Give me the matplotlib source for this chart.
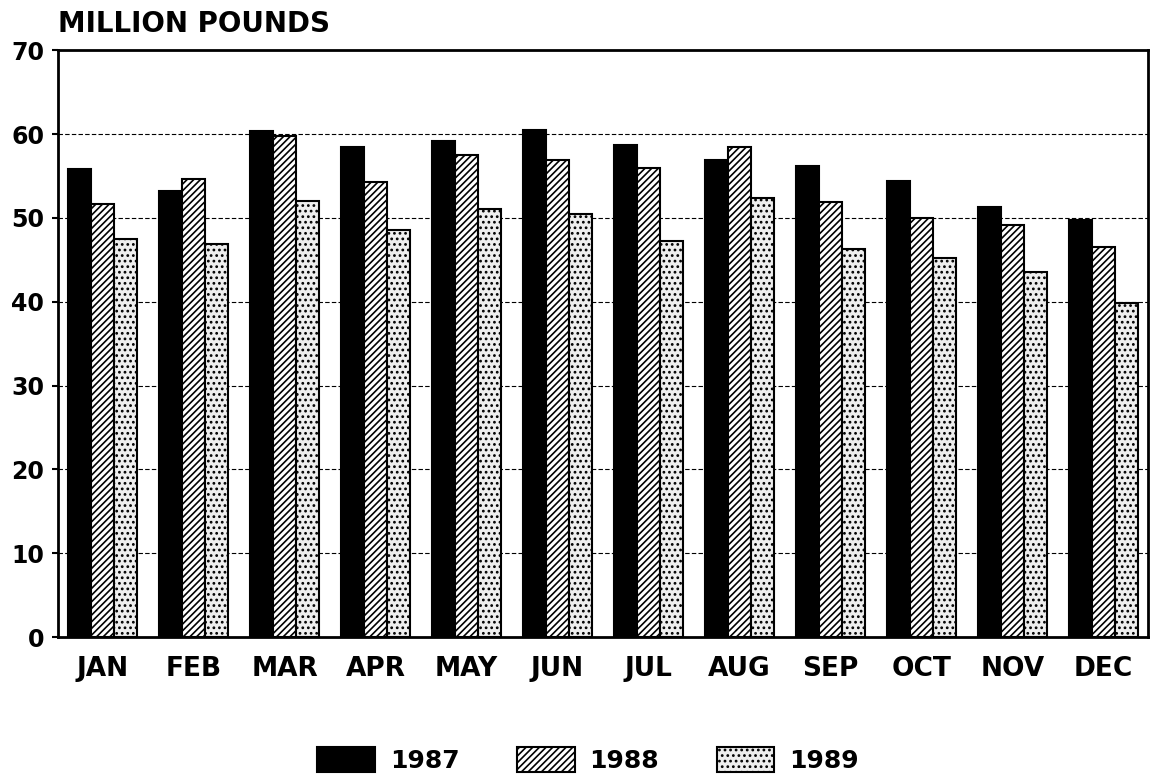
import numpy as np
import matplotlib.pyplot as plt

months = ['JAN', 'FEB', 'MAR', 'APR', 'MAY', 'JUN', 'JUL', 'AUG', 'SEP', 'OCT', 'NOV', 'DEC']
v1987 = [55.8, 53.2, 60.4, 58.5, 59.2, 60.5, 58.7, 56.9, 56.2, 54.4, 51.3, 49.8]
v1988 = [51.7, 54.6, 59.8, 54.3, 57.5, 56.9, 56.0, 58.5, 51.9, 50.0, 49.2, 46.5]
v1989 = [47.5, 46.9, 52.0, 48.6, 51.1, 50.5, 47.3, 52.4, 46.3, 45.2, 43.5, 39.9]
years = ['1987', '1988', '1989']

plt.rcParams['hatch.linewidth'] = 1.2
plt.rcParams['font.family'] = 'DejaVu Sans'
plt.rcParams['font.weight'] = 'bold'

fig = plt.figure(figsize=(11.51, 7.74), dpi=100)
ax = fig.add_axes([0.0504, 0.177, 0.947, 0.758])

x = np.arange(len(months))
w = 0.25
ax.bar(x - w, v1987, w, color='black', edgecolor='black', linewidth=1.5, label=years[0], zorder=3)
ax.bar(x, v1988, w, color='white', edgecolor='black', hatch='/////', linewidth=1.5, label=years[1], zorder=3)
ax.bar(x + w, v1989, w, color='#eeeeee', edgecolor='black', hatch='...', linewidth=1.5, label=years[2], zorder=3)

ax.set_xlim(-0.49, 11.49)
ax.set_ylim(0, 70)
ax.set_yticks(range(0, 71, 10))
ax.set_yticklabels([str(v) for v in range(0, 71, 10)], fontsize=17, fontweight='bold')
ax.set_xticks(x)
ax.set_xticklabels(months, fontsize=19, fontweight='bold')
ax.tick_params(axis='x', length=0, pad=14)
ax.tick_params(axis='y', length=4, width=1.5, pad=6)

# dashed grid
for g in range(10, 70, 10):
    ax.axhline(g, color='black', linestyle=(0, (4, 2)), linewidth=0.8, zorder=1)

for s in ax.spines.values():
    s.set_linewidth(2)

fig.text(0.0504, 0.951, 'MILLION POUNDS', fontsize=20, fontweight='bold', ha='left', va='bottom')

fig.legend(loc='center', bbox_to_anchor=(0.511, 0.018), ncol=3, frameon=False,
           fontsize=18, handlelength=2.3, handleheight=1.15, columnspacing=2.3, handletextpad=0.6)

fig.savefig('out.png', dpi=100)
